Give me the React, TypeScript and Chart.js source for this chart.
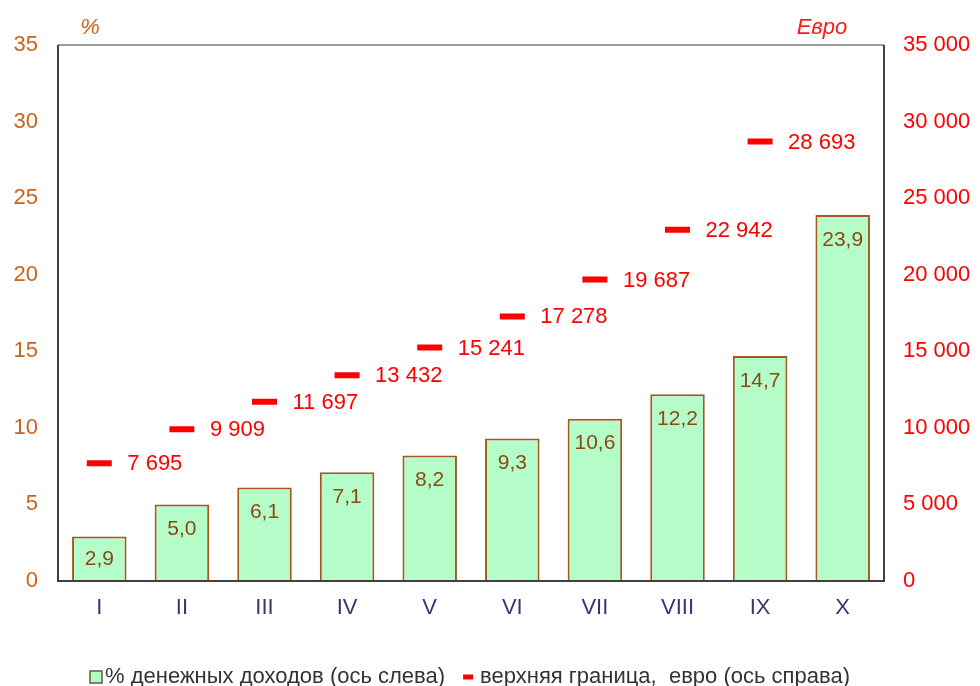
import React, { useEffect, useRef } from 'react';
import { Chart, registerables } from 'chart.js';

Chart.register(...registerables);

const categories = ['I', 'II', 'III', 'IV', 'V', 'VI', 'VII', 'VIII', 'IX', 'X'];
const sharePercent = [2.9, 5.0, 6.1, 7.1, 8.2, 9.3, 10.6, 12.2, 14.7, 23.9];
const upperBoundEuro: (number | null)[] = [7695, 9909, 11697, 13432, 15241, 17278, 19687, 22942, 28693, null];
const leftAxisMax = 35;
const leftAxisStep = 5;
const rightAxisMax = 35000;
const rightAxisStep = 5000;
const seriesNames = ['% денежных доходов (ось слева)', 'верхняя граница,  евро (ось справа)'];
const leftUnit = '%';
const rightUnit = 'Евро';

const FONT = "'Liberation Sans', Arial, sans-serif";
const W = 980;
const H = 686;
const PLOT_TOP = 45;
const PLOT_BOTTOM = 581;
const PLOT_LEFT = 58;
const PLOT_RIGHT = 884;
const BAR_FILL = '#b4fcc8';
const BAR_BORDER = '#a8581e';
const LINE_COLOR = '#ff0000';

const fmtPct = (v: number) => v.toFixed(1).replace('.', ',');
const fmtEuro = (v: number) => String(Math.round(v)).replace(/\B(?=(\d{3})+(?!\d))/g, ' ');

const labelsPlugin = {
  id: 'customLabels',
  afterDatasetsDraw(chart: any) {
    const ctx = chart.ctx;
    ctx.save();
    const barMeta = chart.getDatasetMeta(0);
    ctx.font = `21px ${FONT}`;
    ctx.fillStyle = '#8a4a14';
    ctx.textAlign = 'center';
    ctx.textBaseline = 'middle';
    barMeta.data.forEach((el: any, i: number) => {
      const top = el.y;
      const bottom = el.base;
      const y = Math.min(top + 25, (top + bottom) / 2);
      ctx.fillText(fmtPct(sharePercent[i]), el.x, y);
    });
    const lineMeta = chart.getDatasetMeta(1);
    ctx.font = `22px ${FONT}`;
    ctx.fillStyle = LINE_COLOR;
    ctx.textAlign = 'left';
    lineMeta.data.forEach((el: any, i: number) => {
      const v = upperBoundEuro[i];
      if (v == null) return;
      ctx.fillText(fmtEuro(v), el.x + 28, el.y + 1);
    });
    ctx.restore();
  },
  afterDraw(chart: any) {
    const ctx = chart.ctx;
    const a = chart.chartArea;
    ctx.save();
    // frame
    ctx.lineWidth = 2;
    ctx.strokeStyle = '#9a9a9a';
    ctx.beginPath();
    ctx.moveTo(a.left, a.top);
    ctx.lineTo(a.right, a.top);
    ctx.stroke();
    ctx.strokeStyle = '#404040';
    ctx.beginPath();
    ctx.moveTo(a.left, a.top);
    ctx.lineTo(a.left, a.bottom);
    ctx.lineTo(a.right, a.bottom);
    ctx.lineTo(a.right, a.top);
    ctx.stroke();
    // unit titles
    ctx.font = `italic 22px ${FONT}`;
    ctx.textBaseline = 'middle';
    ctx.textAlign = 'center';
    ctx.fillStyle = '#c8641e';
    ctx.fillText(leftUnit, 90, 28);
    ctx.fillStyle = '#ff1a1a';
    ctx.fillText(rightUnit, 822, 28);
    // legend
    const ly = 677;
    ctx.font = `22px ${FONT}`;
    ctx.textAlign = 'left';
    ctx.fillStyle = BAR_FILL;
    ctx.fillRect(90, ly - 6, 12, 12);
    ctx.lineWidth = 1.5;
    ctx.strokeStyle = '#6b5a2a';
    ctx.strokeRect(90, ly - 6, 12, 12);
    ctx.fillStyle = '#333333';
    const t1x = 105;
    ctx.fillText(seriesNames[0], t1x, ly);
    const t1w = ctx.measureText(seriesNames[0]).width;
    const dx = t1x + t1w + 18;
    ctx.strokeStyle = LINE_COLOR;
    ctx.lineWidth = 5;
    ctx.beginPath();
    ctx.moveTo(dx, ly);
    ctx.lineTo(dx + 10, ly);
    ctx.stroke();
    ctx.fillStyle = '#333333';
    ctx.fillText(seriesNames[1], dx + 17, ly);
    ctx.restore();
  },
};

export default function App() {
  const ref = useRef<HTMLCanvasElement | null>(null);
  useEffect(() => {
    document.body.style.margin = '0';
    const canvas = ref.current!;
    const chart = new Chart(canvas, {
      type: 'bar',
      data: {
        labels: categories,
        datasets: [
          {
            type: 'bar',
            label: seriesNames[0],
            data: sharePercent,
            backgroundColor: BAR_FILL,
            borderColor: BAR_BORDER,
            borderWidth: 2,
            borderSkipped: 'bottom',
            categoryPercentage: 0.66,
            barPercentage: 1,
            yAxisID: 'y',
            order: 2,
          } as any,
          {
            type: 'line',
            label: seriesNames[1],
            data: upperBoundEuro,
            showLine: false,
            pointStyle: 'line',
            pointRadius: 12.5,
            pointHoverRadius: 12.5,
            borderColor: LINE_COLOR,
            backgroundColor: LINE_COLOR,
            pointBorderWidth: 6,
            borderWidth: 6,
            yAxisID: 'y1',
            order: 1,
          } as any,
        ],
      },
      options: {
        responsive: false,
        animation: false,
        layout: { padding: { top: PLOT_TOP, left: 0, right: 0, bottom: 0 } },
        plugins: {
          tooltip: { enabled: false },
          legend: { display: false },
        },
        scales: {
          x: {
            grid: { display: false, drawTicks: false },
            border: { display: false },
            ticks: { color: '#3a3470', font: { family: FONT, size: 22 }, padding: 14 },
            afterFit: (s: any) => {
              s.height = H - PLOT_BOTTOM;
            },
          },
          y: {
            position: 'left',
            min: 0,
            max: leftAxisMax,
            grid: { display: false, drawTicks: false },
            border: { display: false },
            ticks: {
              stepSize: leftAxisStep,
              color: '#c8641e',
              font: { family: FONT, size: 22 },
              padding: 20,
            },
            afterFit: (s: any) => {
              s.width = PLOT_LEFT;
            },
          },
          y1: {
            position: 'right',
            min: 0,
            max: rightAxisMax,
            grid: { display: false, drawTicks: false },
            border: { display: false },
            ticks: {
              stepSize: rightAxisStep,
              color: LINE_COLOR,
              font: { family: FONT, size: 22 },
              padding: 19,
              callback: (v: any) => fmtEuro(Number(v)),
            },
            afterFit: (s: any) => {
              s.width = W - PLOT_RIGHT;
            },
          },
        },
      },
      plugins: [labelsPlugin],
    } as any);
    return () => chart.destroy();
  }, []);
  return (
    <div style={{ position: 'relative', width: W, height: H, background: '#ffffff' }}>
      <canvas ref={ref} width={W} height={H} style={{ display: 'block' }} />
    </div>
  );
}
